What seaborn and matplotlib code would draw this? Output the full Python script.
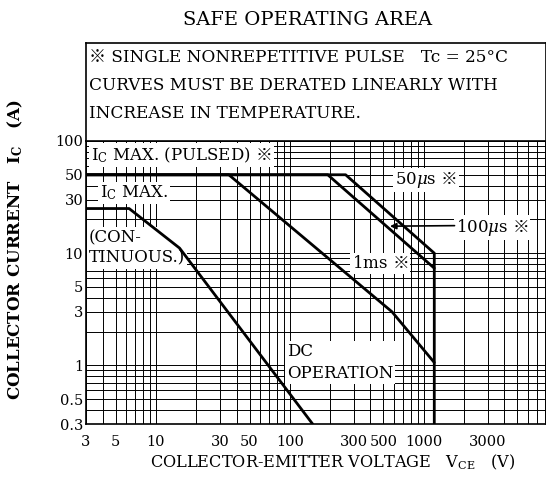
import numpy as np
import matplotlib
matplotlib.use("Agg")
import matplotlib.pyplot as plt
import seaborn as sns
from matplotlib.ticker import LogLocator, NullFormatter

# SOA boundaries (VCE in V, IC in A)
dc_vce = [3, 6.3, 15, 148]
dc_ic = [25, 25, 11.1, 0.3]
ms1_vce = [3, 35, 580, 1200]
ms1_ic = [50, 50, 3.0, 1.06]
us100_vce = [3, 192, 1200]
us100_ic = [50, 50, 7.35]
us50_vce = [3, 261, 1200, 1200]
us50_ic = [50, 50, 10, 0.3]

x_ticks = [3, 5, 10, 30, 50, 100, 300, 500, 1000, 3000]
x_tick_labels = ["3", "5", "10", "30", "50", "100", "300", "500", "1000", "3000"]
y_ticks = [0.3, 0.5, 1, 3, 5, 10, 30, 50, 100]
y_tick_labels = ["0.3", "0.5", "1", "3", "5", "10", "30", "50", "100"]

sns.set_theme(style="white")
plt.rcParams["font.family"] = ["DejaVu Serif", "Noto Sans CJK JP"]
plt.rcParams["mathtext.fontset"] = "custom"
plt.rcParams["mathtext.rm"] = "DejaVu Serif"
plt.rcParams["mathtext.it"] = "DejaVu Serif:italic"
plt.rcParams["mathtext.bf"] = "DejaVu Serif:bold"
plt.rcParams["mathtext.sf"] = "Noto Sans CJK JP"  # only used for the ※ mark
plt.rcParams["text.color"] = "black"

W, H = 546, 490
MARK = r"$\mathsf{※}$"


def box(l, t, r, b):
    # pixel box -> figure fraction
    return [l / W, 1 - b / H, (r - l) / W, (b - t) / H]


fig = plt.figure(figsize=(W / 100, H / 100), dpi=100)
ax = fig.add_axes(box(86, 141, 546, 424))
note = fig.add_axes(box(86, 43, 546, 141))

# curves
for v, i in [(dc_vce, dc_ic), (ms1_vce, ms1_ic), (us100_vce, us100_ic), (us50_vce, us50_ic)]:
    sns.lineplot(x=v, y=i, ax=ax, color="black", lw=2.0, estimator=None, sort=False, zorder=3)

ax.set_xscale("log")
ax.set_yscale("log")
ax.set_xlim(3, 8200)
ax.set_ylim(0.3, 100)
ax.set_xticks(x_ticks, x_tick_labels)
ax.set_yticks(y_ticks, y_tick_labels)
ax.xaxis.set_minor_locator(LogLocator(base=10, subs=np.arange(2, 10)))
ax.yaxis.set_minor_locator(LogLocator(base=10, subs=np.arange(2, 10)))
ax.xaxis.set_minor_formatter(NullFormatter())
ax.yaxis.set_minor_formatter(NullFormatter())
ax.tick_params(which="both", length=0, colors="black", labelsize=10.5)
ax.tick_params(axis="x", pad=8)
ax.tick_params(axis="y", pad=2)
ax.set_axisbelow(True)
ax.grid(True, which="both", color="black", lw=0.7)
for s in ax.spines.values():
    s.set_color("black")
    s.set_linewidth(1.2)

lbl = dict(fontsize=12, color="black", zorder=2,
           bbox=dict(facecolor="white", edgecolor="none", pad=1.5))
ax.text(3.27, 75, r"I$_\mathrm{C}$ MAX. (PULSED) " + MARK, ha="left", va="center", **lbl)
ax.text(3.82, 34.3, r"I$_\mathrm{C}$ MAX.", ha="left", va="center", **lbl)
ax.text(3.16, 11.1, "(CON-\nTINUOUS.)", ha="left", va="center", linespacing=1.25, **lbl)
ax.text(607, 44.5, r"50$\mu$s " + MARK, ha="left", va="center", **lbl)
ax.text(1730, 16.8, r"100$\mu$s " + MARK, ha="left", va="center", **lbl)
ax.text(290, 8.15, "1ms " + MARK, ha="left", va="center", **lbl)
ax.text(95, 1.06, "DC\nOPERATION", ha="left", va="center", linespacing=1.35, **lbl)
ax.annotate("", xy=(560, 17.4), xytext=(1700, 17.6),
            arrowprops=dict(arrowstyle="-|>", color="black", lw=1.2,
                            mutation_scale=9, shrinkA=0, shrinkB=0))

# note box above the chart
note.set_xticks([])
note.set_yticks([])
for s in note.spines.values():
    s.set_color("black")
    s.set_linewidth(1.2)
note_lines = ["※ SINGLE NONREPETITIVE PULSE   Tc = 25°C",
              "CURVES MUST BE DERATED LINEARLY WITH",
              "INCREASE IN TEMPERATURE."]
for k, line in enumerate(note_lines):
    fig.text(89 / W, 1 - (57 + 28.5 * k) / H, line, ha="left", va="center", fontsize=12.2)

fig.text(308 / W, 1 - 20 / H, "SAFE OPERATING AREA", ha="center", va="center", fontsize=14)
fig.text(15 / W, 1 - 250 / H, r"COLLECTOR CURRENT   I$_\mathbf{C}$   (A)", rotation=90,
         ha="center", va="center", fontsize=12, fontweight="bold")
fig.text(333 / W, 1 - 462 / H, r"COLLECTOR-EMITTER VOLTAGE   V$_\mathrm{CE}$   (V)",
         ha="center", va="center", fontsize=11.6)

fig.savefig("out.png", dpi=100)
